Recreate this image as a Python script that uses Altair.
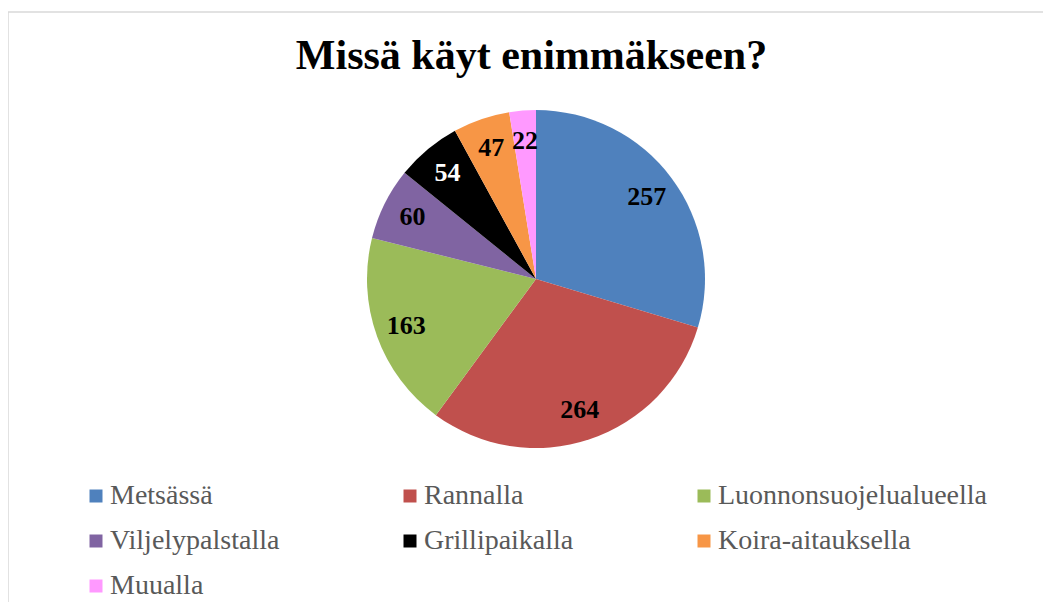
import altair as alt
import pandas as pd

title_text = "Missä käyt enimmäkseen?"
categories = ["Metsässä", "Rannalla", "Luonnonsuojelualueella", "Viljelypalstalla",
              "Grillipaikalla", "Koira-aitauksella", "Muualla"]
values = [257, 264, 163, 60, 54, 47, 22]
colors = ["#4F81BD", "#C0504D", "#9BBB59", "#8064A2", "#000000", "#F79646", "#FF99FF"]

df = pd.DataFrame({"cat": categories, "value": values, "order": list(range(len(categories)))})

W, H = 1035, 594
CX, CY = 528, 271
R = 169
FONT = "Liberation Serif"

base = alt.Chart(df).encode(
    theta=alt.Theta("value:Q", stack=True),
    order=alt.Order("order:Q"),
)

pie = base.mark_arc(outerRadius=R).encode(
    x=alt.value(CX),
    y=alt.value(CY),
    color=alt.Color(
        "cat:N",
        scale=alt.Scale(domain=categories, range=colors),
        sort=categories,
        legend=alt.Legend(
            title=None, orient="none", legendX=74, legendY=474,
            direction="horizontal", columns=3, columnPadding=116, rowPadding=17,
            symbolType="square", symbolSize=169, symbolStrokeWidth=0,
            labelFont=FONT, labelFontSize=28, labelColor="#595959",
            labelOffset=0, labelLimit=400,
        ),
    ),
)

labels = base.mark_text(radius=138, font=FONT, fontSize=26, fontWeight="bold").encode(
    x=alt.value(CX),
    y=alt.value(CY),
    text="value:Q",
    color=alt.condition(alt.datum.cat == "Grillipaikalla", alt.value("white"), alt.value("black")),
)

frame_df = pd.DataFrame({"t": [title_text]})
top_line = alt.Chart(frame_df).mark_rule(color="#d9d9d9", strokeWidth=1.5).encode(
    x=alt.value(0), x2=alt.value(W), y=alt.value(4)
)
left_line = alt.Chart(frame_df).mark_rule(color="#d9d9d9", strokeWidth=1.5).encode(
    x=alt.value(0), y=alt.value(4), y2=alt.value(H)
)
title = alt.Chart(frame_df).mark_text(
    font=FONT, fontSize=42, fontWeight="bold", color="black",
    align="center", baseline="alphabetic",
).encode(x=alt.value(523.5), y=alt.value(61), text="t:N")

chart = alt.layer(top_line, left_line, pie, labels, title).properties(
    width=W, height=H,
    autosize=alt.AutoSizeParams(type="none"),
    padding=0,
    background="white",
).configure_view(strokeWidth=0)

chart.save("out.html", embed_options={"renderer": "svg", "actions": False})
